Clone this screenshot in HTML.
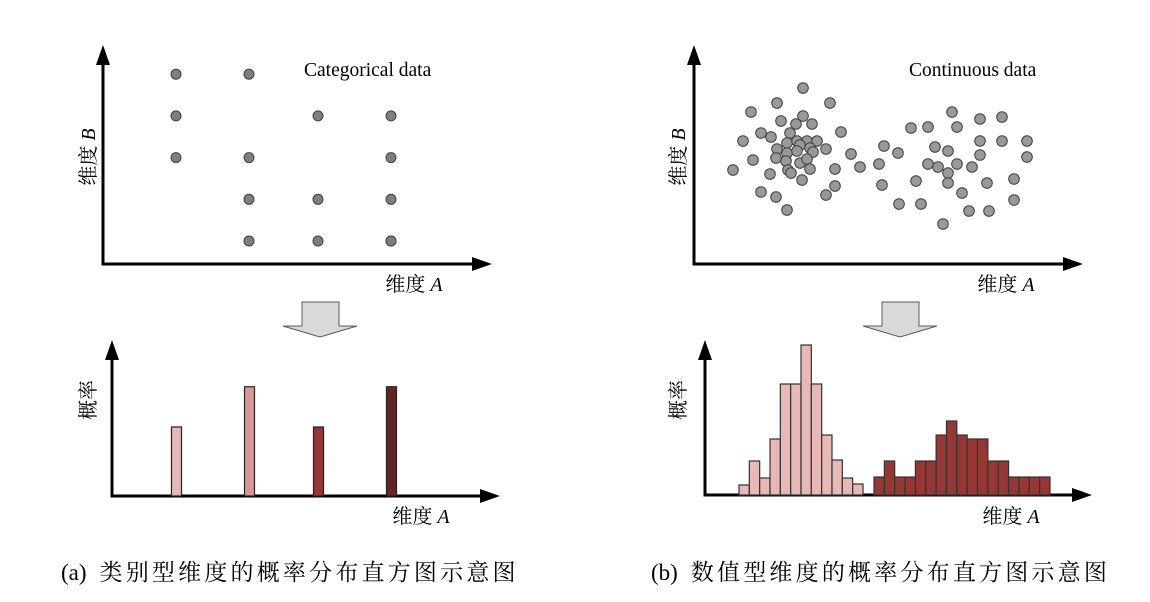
<!DOCTYPE html>
<html><head><meta charset="utf-8"><style>
html,body{margin:0;padding:0;background:#fff;width:1150px;height:602px;overflow:hidden}
svg{display:block}
.t{font-family:"Liberation Serif","Noto Serif CJK SC",serif;fill:#000}
</style></head><body>
<svg id="fig" width="1150" height="602" viewBox="0 0 1150 602">
<g id="panelA"></g>
<g id="panelB"></g>
<text class="t" x="61" y="580" font-size="23">(a)<tspan dx="13" letter-spacing="3.2">类别型维度的概率分布直方图示意图</tspan></text>
<text class="t" x="651" y="580" font-size="23">(b)<tspan dx="13" letter-spacing="3.2">数值型维度的概率分布直方图示意图</tspan></text>
</svg>
<script>
// categorical scatter data (category index, level index)
const catX = [0,0,0,1,1,1,1,2,2,2,3,3,3,3,3];
const catY = [4,3,2,4,2,1,0,3,1,0,3,2,1,0,0];
const catXPos = [0,1,2,3];
// categorical bar probabilities
const catProb = [0.6,0.95,0.6,0.95];
const catColors = ['#e6b9b7','#d99694','#953735','#632523'];
// continuous scatter data
const contX = [803,777,830,751,803,781,796,812,761,771,790,841,743,787,797,807,817,800,777,787,797,810,813,826,776,786,800,807,753,851,733,770,788,791,810,835,860,802,835,761,776,826,787,
952,980,1002,911,928,957,980,1002,1027,884,898,935,948,980,1027,879,928,938,957,972,948,882,916,948,987,1014,962,899,921,969,989,1014,943];
const contY = [88,103,103,112,116,121,124,124,133,137,133,132,141,143,141,141,141,145,149,153,151,148,152,149,158,161,163,159,160,154,170,174,170,173,169,169,167,180,186,192,197,195,210,
112,119,117,128,127,127,141,141,141,146,153,147,151,155,157,164,164,167,164,167,173,185,181,183,183,179,193,204,204,211,211,200,224];
// histogram counts
const histA = [10,34,17,56,111,111,150,111,60,35,17,11];
const histB = [18,34,18,18,34,34,60,74,60,56,56,34,34,18,18,18,18];

const NS='http://www.w3.org/2000/svg';
function mk(tag, attrs, parent){const e=document.createElementNS(NS,tag);for(const k in attrs)e.setAttribute(k,attrs[k]);parent.appendChild(e);return e;}
function axes(g,x0,y0,yTop,xEnd,pre){
  const ya=mk('line',{x1:x0,y1:y0,x2:x0,y2:yTop+18,stroke:'#000','stroke-width':3},g);
  
  
  const yh=mk('polygon',{points:`${x0-7},${yTop+20} ${x0},${yTop} ${x0+7},${yTop+20}`,fill:'#000'},g);
  
  
  const xa=mk('line',{x1:x0-1.5,y1:y0,x2:xEnd-18,y2:y0,stroke:'#000','stroke-width':3},g);
  
  
  const xh=mk('polygon',{points:`${xEnd-20},${y0-7} ${xEnd},${y0} ${xEnd-20},${y0+7}`,fill:'#000'},g);
  
  
}
function label(g,x,y,txt,rot,name,italic){
  const t=mk('text',{x:x,y:y,class:'t','font-size':20,'text-anchor':'middle'},g);
  if(rot)t.setAttribute('transform',`rotate(-90 ${x} ${y})`);
  t.textContent=txt;
  const s=mk('tspan',{'font-style':'italic'},t);s.textContent=' '+italic;
  
  
}
function bigArrow(g,cx,name){
  const p=mk('polygon',{points:`${cx-18},302 ${cx+19},302 ${cx+19},326 ${cx+37},326 ${cx},337 ${cx-37},326 ${cx-18},326`,fill:'#d9d9d9',stroke:'#595959','stroke-width':1},g);
  
  
}
const A=document.getElementById('panelA'), B=document.getElementById('panelB');
// ---- Panel A top scatter
axes(A,103,264,45,492,'cat-scatter');
const cx0=176, cdx=[0,73,142,215], cy0=241, cdy=41.7;
for(let i=0;i<catX.length;i++){
  const c=mk('circle',{cx:cx0+cdx[catXPos[catX[i]]],cy:cy0-catY[i]*cdy,r:5,fill:'#7f7f7f',stroke:'#404040','stroke-width':1},A);
  
  
}
const tA=mk('text',{x:304,y:76,class:'t','font-size':19.5},A);tA.textContent='Categorical data';


label(A,95,157,'维度',true,'y-axis-title-b','B');
label(A,414,291,'维度',false,'x-axis-title-a','A');
bigArrow(A,320,'down-arrow-a');
// ---- Panel A bars
axes(A,112,496,340,500,'cat-bar');
const barH=115;
for(let i=0;i<catProb.length;i++){
  const h=catProb[i]*barH;
  const r=mk('rect',{x:cx0+cdx[i]-4.5,y:496-h,width:10,height:h,fill:catColors[i],stroke:'#222','stroke-width':1.2},A);
  
  
}
label(A,95,400,'概率',true,'y-axis-title-prob-a','');
label(A,421,523,'维度',false,'x-axis-title-a-bottom','A');
// ---- Panel B scatter
axes(B,694,264,45,1083,'cont-scatter');
for(let i=0;i<contX.length;i++){
  const c=mk('circle',{cx:contX[i],cy:contY[i],r:5.3,fill:'#999',stroke:'#404040','stroke-width':1},B);
  
  
}
const tB=mk('text',{x:909,y:76,class:'t','font-size':19.5},B);tB.textContent='Continuous data';


label(B,685,157,'维度',true,'y-axis-title-b-right','B');
label(B,1006,291,'维度',false,'x-axis-title-a-right','A');
bigArrow(B,900,'down-arrow-b');
// ---- Panel B histogram
axes(B,705,495,340,1092,'hist');
const wA=(863-739)/histA.length, wB=(1050-874)/histB.length;
histA.forEach((v,i)=>{
  const r=mk('rect',{x:739+i*wA,y:495-v,width:wA,height:v,fill:'#e6b9b7',stroke:'#333','stroke-width':1.2},B);
  
  
});
histB.forEach((v,i)=>{
  const r=mk('rect',{x:874+i*wB,y:495-v,width:wB,height:v,fill:'#953735',stroke:'#333','stroke-width':1.2},B);
  
  
});
label(B,685,400,'概率',true,'y-axis-title-prob-b','');
label(B,1011,523,'维度',false,'x-axis-title-a-hist','A');
</script>
</body></html>
